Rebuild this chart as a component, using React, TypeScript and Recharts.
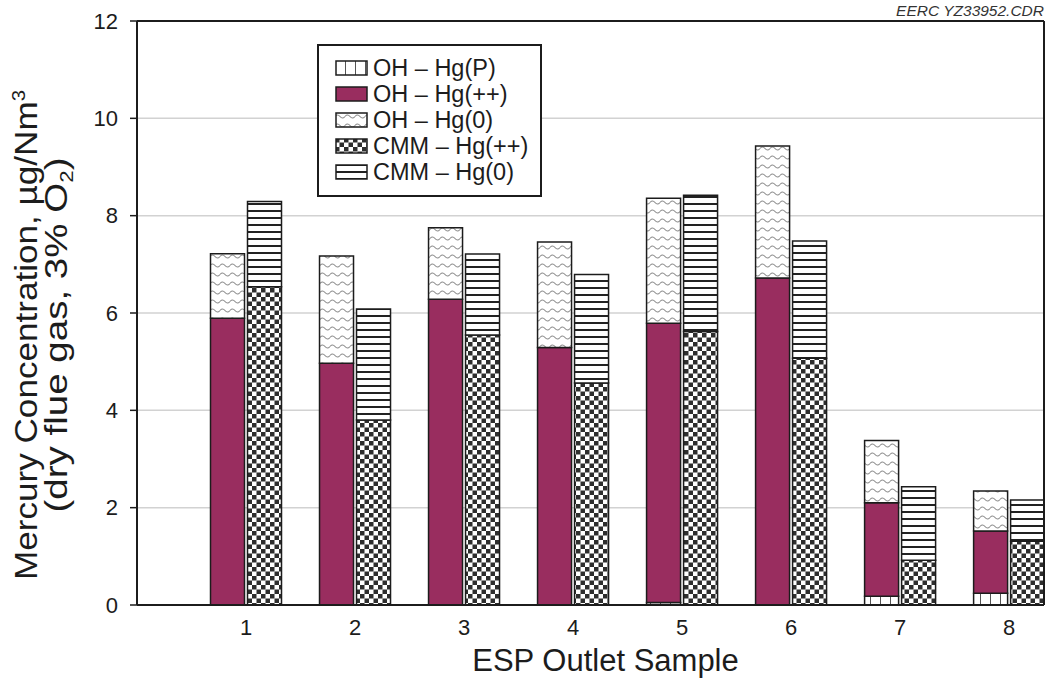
import React from 'react';
import {
  BarChart,
  Bar,
  XAxis,
  YAxis,
  CartesianGrid,
  ReferenceLine,
  Legend,
} from 'recharts';

// ESP outlet samples
const samples = [1, 2, 3, 4, 5, 6, 7, 8];

// Ontario Hydro method speciation, µg/Nm³
const ohParticulate = [0, 0, 0, 0, 0.05, 0, 0.18, 0.24];
const ohOxidized = [5.89, 4.97, 6.28, 5.29, 5.74, 6.72, 1.92, 1.28];
const ohElemental = [1.33, 2.2, 1.47, 2.17, 2.57, 2.71, 1.28, 0.82];

// Continuous mercury monitor speciation, µg/Nm³
const cmmOxidized = [6.54, 3.8, 5.55, 4.56, 5.62, 5.07, 0.92, 1.31];
const cmmElemental = [1.75, 2.28, 1.66, 2.23, 2.8, 2.41, 1.51, 0.85];

const yTicks = [0, 2, 4, 6, 8, 10, 12];
const X_MAX = 8.32;

const data = samples.map((s, i) => ({
  sample: s,
  ohP: ohParticulate[i],
  ohOx: ohOxidized[i],
  ohEl: ohElemental[i],
  cmmOx: cmmOxidized[i],
  cmmEl: cmmElemental[i],
}));

const FONT = '"Liberation Sans", Arial, Helvetica, sans-serif';
const INK = '#1c1c1c';
const MAGENTA = '#992d5f';

const legendItems = [
  { label: 'OH – Hg(P)', fill: 'url(#patPart)' },
  { label: 'OH – Hg(++)', fill: MAGENTA },
  { label: 'OH – Hg(0)', fill: 'url(#patWave)' },
  { label: 'CMM – Hg(++)', fill: 'url(#patCheck)' },
  { label: 'CMM – Hg(0)', fill: 'url(#patStripe)' },
];

const Patterns = () => (
  <svg width={0} height={0} style={{ position: 'absolute' }}>
    <defs>
      <pattern id="patPart" patternUnits="userSpaceOnUse" width={10} height={10}>
        <rect width={10} height={10} fill="#fff" />
        <line x1={0.5} y1={0} x2={0.5} y2={10} stroke="#555" strokeWidth={1} />
      </pattern>
      <pattern id="patWave" patternUnits="userSpaceOnUse" width={10} height={9}>
        <rect width={10} height={9} fill="#fff" />
        <path d="M0 4.5 Q2.5 1.5 5 4.5 T10 4.5" fill="none" stroke="#8a8a8a" strokeWidth={1.1} />
      </pattern>
      <pattern id="patCheck" patternUnits="userSpaceOnUse" width={9} height={9}>
        <rect width={9} height={9} fill="#fff" />
        <rect x={0} y={0} width={4.5} height={4.5} fill="#2e2e2e" />
        <rect x={4.5} y={4.5} width={4.5} height={4.5} fill="#2e2e2e" />
      </pattern>
      <pattern id="patStripe" patternUnits="userSpaceOnUse" width={8} height={7}>
        <rect width={8} height={7} fill="#fff" />
        <rect x={0} y={0} width={8} height={2} fill="#222" />
      </pattern>
    </defs>
  </svg>
);

const LegendBox = () => (
  <div
    style={{
      width: 225,
      height: 153,
      boxSizing: 'border-box',
      border: `2px solid ${INK}`,
      background: '#fff',
      paddingTop: 9,
      fontFamily: FONT,
    }}
  >
    {legendItems.map((it) => (
      <div
        key={it.label}
        style={{ display: 'flex', alignItems: 'center', height: 26, paddingLeft: 16 }}
      >
        <svg width={34} height={17} style={{ display: 'block', flex: 'none' }}>
          <rect x={1} y={1} width={31} height={14} fill={it.fill} stroke={INK} strokeWidth={1.5} />
        </svg>
        <span style={{ fontSize: 23.5, color: INK, marginLeft: 4, lineHeight: '26px', whiteSpace: 'nowrap' }}>
          {it.label}
        </span>
      </div>
    ))}
  </div>
);

const YLabel = (props: any) => {
  const vb = props.viewBox || { x: 0, y: 21, width: 137, height: 584 };
  const cy = vb.y + vb.height / 2 + 22;
  return (
    <g fill={INK} fontFamily={FONT}>
      <text
        transform="rotate(-90)"
        x={-cy}
        y={37}
        textAnchor="middle"
        fontSize={31}
        textLength={490}
        lengthAdjust="spacingAndGlyphs"
      >
        Mercury Concentration, µg/Nm
        <tspan dy={-12} fontSize={18}>3</tspan>
      </text>
      <text
        transform="rotate(-90)"
        x={-cy}
        y={67}
        textAnchor="middle"
        fontSize={31}
        textLength={355}
        lengthAdjust="spacingAndGlyphs"
      >
        (dry flue gas, 3% O
        <tspan dy={6} fontSize={18}>2</tspan>
        <tspan dy={-6}>)</tspan>
      </text>
    </g>
  );
};

const XLabel = (props: any) => {
  const vb = props.viewBox || { x: 137, y: 605, width: 907, height: 75 };
  return (
    <text
      x={vb.x + vb.width / 2 + 15}
      y={vb.y + 66}
      textAnchor="middle"
      fontSize={31}
      fill={INK}
      fontFamily={FONT}
    >
      ESP Outlet Sample
    </text>
  );
};

export default function App() {
  return (
    <div style={{ position: 'absolute', left: 0, top: 0, width: 1047, height: 680, background: '#fff', fontFamily: FONT }}>
      <Patterns />
      <div
        style={{
          position: 'absolute',
          right: 3,
          top: 2,
          fontSize: 15.5,
          fontStyle: 'italic',
          color: '#333',
          fontFamily: FONT,
        }}
      >
        EERC YZ33952.CDR
      </div>
      <BarChart
        width={1047}
        height={680}
        data={data}
        margin={{ top: 21, right: 3, bottom: 0, left: 0 }}
        barSize={34}
        barGap={3}
        style={{ fontFamily: FONT }}
      >
        <CartesianGrid vertical={false} stroke="#d2d2d2" strokeWidth={1.5} />
        <XAxis
          dataKey="sample"
          type="number"
          domain={[0, X_MAX]}
          ticks={samples}
          allowDataOverflow
          tickLine={false}
          tickSize={0}
          tickMargin={14}
          height={75}
          axisLine={{ stroke: INK, strokeWidth: 2 }}
          tick={{ fontSize: 22, fill: INK }}
          label={<XLabel />}
        />
        <YAxis
          type="number"
          domain={[0, 12]}
          ticks={yTicks}
          width={137}
          tickSize={7}
          tickMargin={12}
          axisLine={{ stroke: INK, strokeWidth: 2 }}
          tickLine={{ stroke: INK, strokeWidth: 1.5 }}
          tick={{ fontSize: 22, fill: INK }}
          label={<YLabel />}
        />
        <Legend
          layout="vertical"
          align="center"
          verticalAlign="middle"
          content={<LegendBox />}
          wrapperStyle={{ left: 317, top: 44, width: 225, height: 153 }}
        />
        <Bar dataKey="ohP" stackId="oh" fill="url(#patPart)" stroke={INK} strokeWidth={1.5} isAnimationActive={false} />
        <Bar dataKey="ohOx" stackId="oh" fill={MAGENTA} stroke={INK} strokeWidth={1.5} isAnimationActive={false} />
        <Bar dataKey="ohEl" stackId="oh" fill="url(#patWave)" stroke={INK} strokeWidth={1.5} isAnimationActive={false} />
        <Bar dataKey="cmmOx" stackId="cmm" fill="url(#patCheck)" stroke={INK} strokeWidth={1.5} isAnimationActive={false} />
        <Bar dataKey="cmmEl" stackId="cmm" fill="url(#patStripe)" stroke={INK} strokeWidth={1.5} isAnimationActive={false} />
        <ReferenceLine y={12} stroke={INK} strokeWidth={2} />
        <ReferenceLine x={X_MAX} stroke={INK} strokeWidth={2} />
      </BarChart>
    </div>
  );
}
